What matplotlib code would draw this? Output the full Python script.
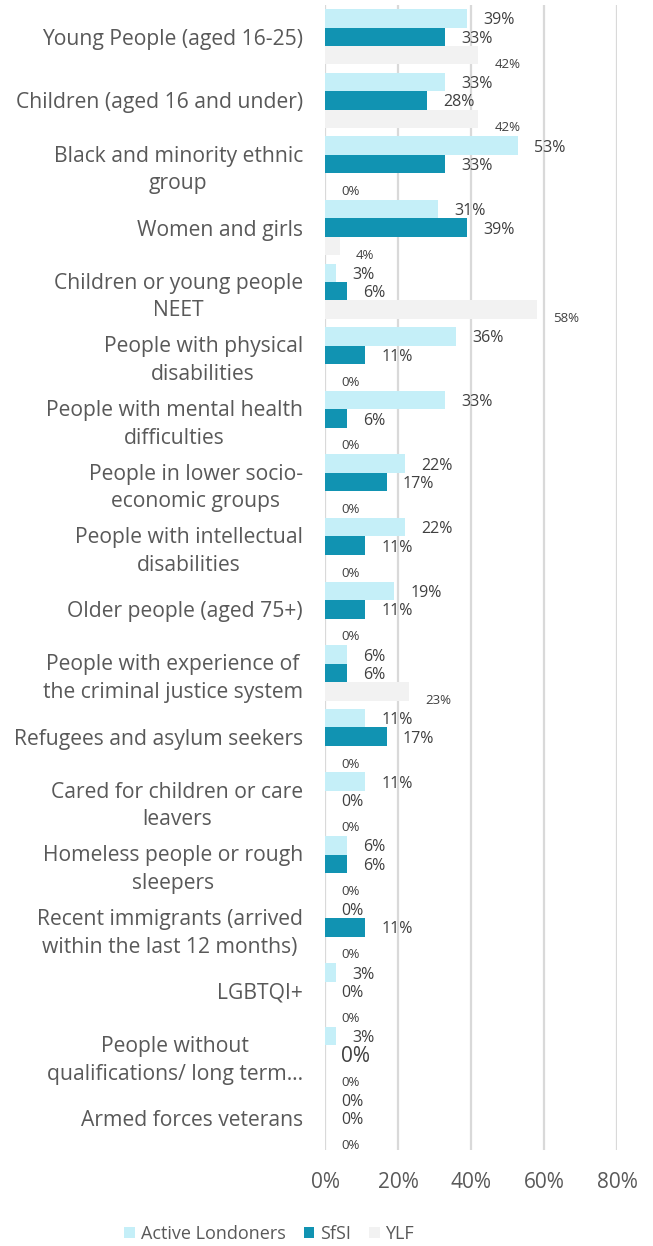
import numpy as np
import matplotlib
matplotlib.use("Agg")
import matplotlib.pyplot as plt

plt.rcParams['font.family'] = ['Open Sans', 'DejaVu Sans']

# ------------------------------------------------------------
# Data (percent of respondents per target group)
# ------------------------------------------------------------
categories = [
    "Young People (aged 16-25)",
    "Children (aged 16 and under)",
    "Black and minority ethnic\ngroup",
    "Women and girls",
    "Children or young people\nNEET",
    "People with physical\ndisabilities",
    "People with mental health\ndifficulties",
    "People in lower socio-\neconomic groups",
    "People with intellectual\ndisabilities",
    "Older people (aged 75+)",
    "People with experience of\nthe criminal justice system",
    "Refugees and asylum seekers",
    "Cared for children or care\nleavers",
    "Homeless people or rough\nsleepers",
    "Recent immigrants (arrived\nwithin the last 12 months)",
    "LGBTQI+",
    "People without\nqualifications/ long term\u2026",
    "Armed forces veterans",
]
active_londoners = [39, 33, 53, 31, 3, 36, 33, 22, 22, 19, 6, 11, 11, 6, 0, 3, 3, 0]
sfsi = [33, 28, 33, 39, 6, 11, 6, 17, 11, 11, 6, 17, 0, 6, 11, 0, 0, 0]
ylf = [42, 42, 0, 4, 58, 0, 0, 0, 0, 0, 23, 0, 0, 0, 0, 0, 0, 0]
series_names = ["Active Londoners", "SfSI", "YLF"]
x_ticks = [0, 20, 40, 60, 80]

colors = ["#c5eff8", "#1193b2", "#f2f2f2"]
label_color = "#404040"
text_color = "#595959"

fig = plt.figure(figsize=(6.53, 12.46), dpi=100)
ax = fig.add_axes([325 / 653, 1 - 1150 / 1246, 292 / 653, 1145 / 1246])

y = np.arange(len(categories))
h = 0.29
series = [active_londoners, sfsi, ylf]
for k, (vals, name, col) in enumerate(zip(series, series_names, colors)):
    pos = y + (k - 1) * h
    ax.barh(pos, vals, height=h, color=col, label=name, zorder=2)
    for i, (p, v) in enumerate(zip(pos, vals)):
        if k < 2:
            fs = 11.5
            dy = -1.5
            # the odd oversized label in the original
            if k == 1 and i == 16:
                fs = 15
        else:
            fs = 9.5
            dy = -6.5
        ax.annotate(f"{v}%", (v, p), xytext=(11.5, dy), textcoords="offset points",
                    ha="left", va="center", fontsize=fs, color=label_color)

ax.set_xlim(0, 80)
ax.set_ylim(len(categories) - 0.5, -0.5)
ax.set_xticks(x_ticks)
ax.set_xticklabels([f"{t}%" for t in x_ticks], fontsize=15, color=text_color)
ax.set_yticks(y)
ax.set_yticklabels(categories, fontsize=15.2, color=text_color,
                   multialignment="center", linespacing=1.42)
ax.tick_params(axis="both", length=0)
ax.tick_params(axis="x", pad=16)
ax.tick_params(axis="y", pad=16)
ax.grid(axis="x", color="#d9d9d9", linewidth=1.6, zorder=0)
for s in ax.spines.values():
    s.set_visible(False)

fig.legend(loc="center", bbox_to_anchor=(269 / 653, 1 - 1234 / 1246), ncol=3,
           frameon=False, fontsize=13, handlelength=0.6, handleheight=0.6,
           handletextpad=0.3, columnspacing=1.0, labelcolor=text_color,
           borderpad=0)

fig.savefig("out.png", dpi=100)
